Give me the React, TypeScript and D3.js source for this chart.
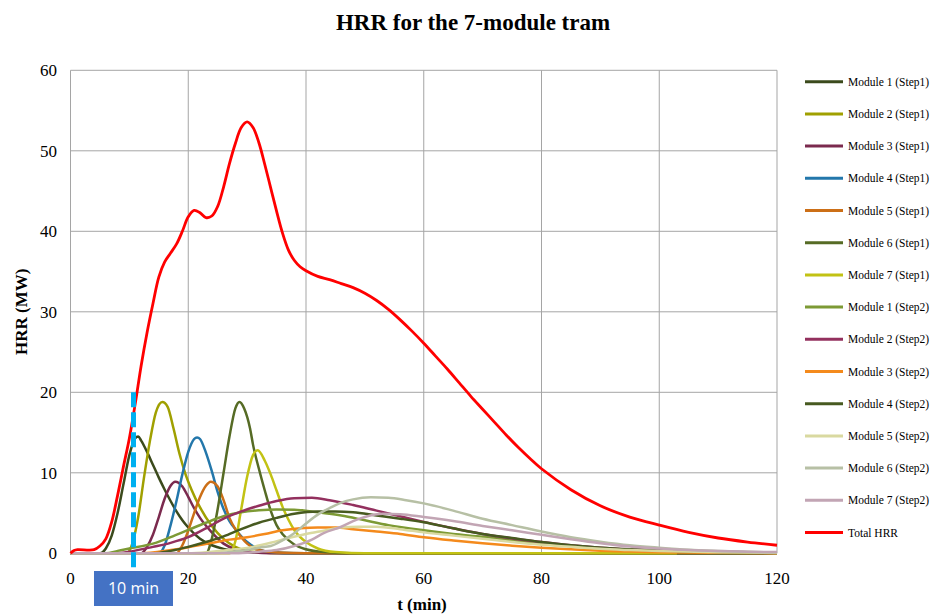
import * as d3 from "d3";

type Pt = [number, number];

// t (min), HRR (MW)
const m1s1: Pt[] = [[0,0],[5,0],[6,0.6],[7,2.2],[8,5],[9,8.6],[10,12.2],[11,14.3],[11.5,14.5],[12,14.0],[13,12.6],[14,11.0],[15,9.4],[16,7.9],[17,6.5],[18,5.2],[19,4.1],[20,3.2],[22,1.8],[24,1.0],[26,0.55],[28,0.3],[32,0.1],[40,0],[120,0]];
const m2s1: Pt[] = [[0,0],[9.5,0],[10.5,1.2],[11.5,4.5],[12.5,9.5],[13.5,14],[14.5,17.5],[15.6,18.8],[16.5,18.2],[17.5,15.5],[18.5,12.4],[19.5,9.9],[20.5,8.0],[22,5.7],[24,3.4],[26,1.8],[28,0.8],[30,0.3],[34,0.05],[40,0],[120,0]];
const m3s1: Pt[] = [[0,0],[12,0],[13,0.8],[14,2.3],[15,4.5],[16,6.8],[17,8.4],[17.8,8.9],[19,8.3],[20,7],[21,5.6],[22,4.4],[24,2.6],[26,1.2],[28,0.5],[30,0.2],[34,0],[120,0]];
const m4s1: Pt[] = [[0,0],[15,0],[16,1],[17,3.5],[18,6.5],[19,9.8],[20,12.6],[21,14.2],[21.5,14.4],[22,14.2],[23,12.5],[24,10.2],[25,7.6],[26,5.5],[27,4],[28,3],[30,1.4],[32,0.5],[34,0.15],[38,0],[120,0]];
const m5s1: Pt[] = [[0,0],[18,0],[19,1],[20,2.8],[21,5],[22,7],[23,8.4],[23.8,8.9],[25,8.3],[26,6.6],[27,4.4],[28,3.0],[29,2],[30,1.2],[32,0.4],[35,0.1],[40,0],[120,0]];
const m6s1: Pt[] = [[0,0],[23,0],[24,1.8],[25,5.5],[26,10],[27,14.5],[28,18],[28.7,18.8],[29.5,18],[30.5,15.5],[31,13.5],[32,10.5],[33,7.8],[34,5.3],[35,3.5],[36,2.4],[38,1.1],[40,0.5],[43,0.15],[48,0],[120,0]];
const m7s1: Pt[] = [[0,0],[27,0],[28,1.5],[29,5.5],[30,9.5],[31,12.2],[31.8,12.8],[33,11.5],[34,9.8],[35,7.8],[36,5.8],[37,4.2],[38,2.9],[40,1.4],[42,0.6],[45,0.15],[50,0],[103,0]];
const m1s2: Pt[] = [[0,0],[6,0],[8,0.3],[10,0.6],[14,1.2],[17,2.0],[20,2.9],[23,3.8],[26,4.6],[29,5.1],[32,5.35],[35,5.45],[38,5.4],[42,5.1],[46,4.7],[50,4.1],[54,3.5],[60,2.85],[65,2.4],[70,2.05],[75,1.6],[80,1.2],[85,0.9],[90,0.65],[95,0.45],[100,0.3],[110,0.15],[120,0.07]];
const m2s2: Pt[] = [[0,0],[8,0],[10,0.2],[14,0.8],[17,1.3],[20,2.0],[23,3.1],[26,4.3],[29,5.2],[32,5.9],[35,6.5],[38,6.85],[41,6.9],[44,6.6],[48,6.0],[52,5.3],[56,4.6],[60,3.9],[65,3.1],[70,2.4],[75,1.85],[80,1.4],[85,1.0],[90,0.7],[95,0.5],[100,0.35],[110,0.15],[120,0.06]];
const m3s2: Pt[] = [[0,0],[12,0],[15,0.2],[18,0.5],[21,0.9],[24,1.3],[27,1.7],[30,2.0],[33,2.4],[36,2.85],[39,3.1],[42,3.2],[45,3.2],[48,3.0],[52,2.7],[56,2.4],[60,2.0],[65,1.6],[70,1.25],[75,0.95],[80,0.7],[85,0.5],[90,0.33],[95,0.22],[100,0.14],[110,0.06],[120,0.02]];
const m4s2: Pt[] = [[0,0],[14,0],[17,0.3],[20,0.8],[23,1.4],[26,2.1],[29,3.0],[32,3.8],[35,4.4],[38,4.9],[42,5.2],[45,5.2],[48,5.1],[52,4.7],[56,4.3],[60,3.85],[65,3.1],[70,2.4],[75,1.9],[80,1.4],[85,1.0],[90,0.7],[95,0.5],[100,0.35],[110,0.15],[120,0.06]];
const m5s2: Pt[] = [[0,0],[20,0],[24,0.2],[28,0.5],[31,0.8],[34,1.3],[37,1.9],[40,2.4],[43,2.8],[46,3.2],[49,3.3],[52,3.3],[56,3.0],[60,2.6],[65,2.2],[70,1.8],[75,1.4],[80,1.05],[85,0.8],[90,0.55],[95,0.4],[100,0.28],[110,0.12],[120,0.05]];
const m6s2: Pt[] = [[0,0],[24,0],[27,0.15],[30,0.4],[32,0.7],[34,0.9],[36,1.6],[38,2.5],[40,3.7],[42,4.8],[44,5.6],[46,6.3],[48,6.7],[51,6.95],[54,6.9],[57,6.6],[60,6.2],[65,5.3],[70,4.3],[75,3.5],[80,2.7],[85,2.0],[90,1.45],[95,1.0],[100,0.7],[105,0.45],[110,0.3],[115,0.18],[120,0.1]];
const m7s2: Pt[] = [[0,0],[28,0],[32,0.2],[35,0.4],[38,0.9],[41,1.7],[43,2.5],[46,3.3],[48,4.0],[50,4.5],[53,4.9],[56,4.85],[60,4.5],[65,4.0],[70,3.4],[75,2.85],[80,2.3],[85,1.75],[90,1.25],[95,0.85],[100,0.6],[105,0.4],[110,0.28],[115,0.2],[120,0.15]];
const total: Pt[] = [[0,0],[0.6,0.35],[1.2,0.45],[4,0.45],[5,0.9],[6,1.8],[7,3.9],[8,7.2],[9,10.8],[10,14.3],[11,18.6],[12,23.3],[13,27.4],[14,31.0],[15,34.3],[16,36.2],[17,37.3],[18,38.4],[19,40.0],[20,41.8],[21,42.6],[22,42.3],[23,41.7],[24,41.9],[25,43.1],[26,45.5],[27,48.4],[28,50.9],[29,52.9],[30,53.6],[31,52.9],[32,51.0],[33,48.3],[34,45.4],[35,42.5],[36,39.8],[37,37.7],[38,36.4],[39,35.6],[40,35.1],[42,34.4],[44,34.0],[46,33.5],[48,33.0],[50,32.3],[52,31.4],[54,30.3],[56,29.0],[58,27.6],[60,26.1],[62,24.5],[64,22.9],[66,21.2],[68,19.5],[70,17.9],[72,16.3],[74,14.7],[76,13.2],[78,11.8],[80,10.5],[85,7.9],[90,5.9],[95,4.5],[100,3.5],[105,2.6],[110,1.9],[115,1.4],[120,1.0]];

const seriesNames = [
  "Module 1 (Step1)", "Module 2 (Step1)", "Module 3 (Step1)", "Module 4 (Step1)",
  "Module 5 (Step1)", "Module 6 (Step1)", "Module 7 (Step1)", "Module 1 (Step2)",
  "Module 2 (Step2)", "Module 3 (Step2)", "Module 4 (Step2)", "Module 5 (Step2)",
  "Module 6 (Step2)", "Module 7 (Step2)", "Total HRR",
];
const seriesColors = [
  "#3b4a1c", "#a0a000", "#7b2a4e", "#2377ab", "#cc6f17", "#566b25", "#c2c214",
  "#7d9a35", "#93305e", "#f48a1c", "#475a20", "#d9d9a0", "#b7c0a5", "#c2a5b4", "#ff0000",
];
const seriesData = [m1s1, m2s1, m3s1, m4s1, m5s1, m6s1, m7s1, m1s2, m2s2, m3s2, m4s2, m5s2, m6s2, m7s2, total];

const xTicks = [0, 20, 40, 60, 80, 100, 120];
const yTicks = [0, 10, 20, 30, 40, 50, 60];
const markerT = 10.7; // "10 min" marker
const markerTop = 20;

const W = 930;
const H = 615;
const plot = { left: 70.5, right: 777, top: 70.3, bottom: 553.3 };
const serif = "'Liberation Serif', 'Times New Roman', serif";

export default function App() {
  const x = d3.scaleLinear().domain([0, 120]).range([plot.left, plot.right]);
  const y = d3.scaleLinear().domain([0, 60]).range([plot.bottom, plot.top]);
  const moduleLine = d3
    .line<Pt>()
    .x((d) => x(d[0]))
    .y((d) => y(d[1]))
    .curve(d3.curveMonotoneX);
  // total is smooth everywhere, catmull-rom keeps it round
  const totalLine = d3
    .line<Pt>()
    .x((d) => x(d[0]))
    .y((d) => y(d[1]))
    .curve(d3.curveCatmullRom.alpha(0.5));

  const mx = x(markerT);

  return (
    <svg
      width={W}
      height={H}
      style={{ position: "absolute", left: 0, top: 0, background: "#fff" }}
      fontFamily={serif}
    >
      <text x={473} y={30} textAnchor="middle" fontSize={23} fontWeight="bold">
        HRR for the 7-module tram
      </text>

      {/* grid */}
      {yTicks.map((t) => (
        <line key={"gy" + t} x1={plot.left} x2={plot.right} y1={y(t)} y2={y(t)} stroke="#a5a5a5" strokeWidth={1} />
      ))}
      {xTicks.map((t) => (
        <line key={"gx" + t} x1={x(t)} x2={x(t)} y1={plot.top} y2={plot.bottom} stroke="#a5a5a5" strokeWidth={1} />
      ))}

      {/* tick labels */}
      {yTicks.map((t) => (
        <text key={"ty" + t} x={57} y={y(t) + 6} textAnchor="end" fontSize={17}>
          {t}
        </text>
      ))}
      {xTicks.map((t) => (
        <text key={"tx" + t} x={x(t)} y={584} textAnchor="middle" fontSize={17}>
          {t}
        </text>
      ))}

      <text x={422} y={610} textAnchor="middle" fontSize={17} fontWeight="bold">
        t (min)
      </text>
      <text
        transform={`translate(27,${(plot.top + plot.bottom) / 2}) rotate(-90)`}
        textAnchor="middle"
        fontSize={17}
        fontWeight="bold"
      >
        HRR (MW)
      </text>

      {/* curves */}
      <g fill="none" strokeLinejoin="round">
        {seriesData.map((d, i) => (
          <path
            key={i}
            d={(i === 14 ? totalLine(d) : moduleLine(d)) ?? ""}
            stroke={seriesColors[i]}
            strokeWidth={i === 14 ? 2.8 : 2.5}
          />
        ))}
      </g>

      {/* 10 min marker */}
      <line x1={mx} x2={mx} y1={y(markerTop)} y2={571} stroke="#00b0f0" strokeWidth={5} strokeDasharray="15,5" />
      <rect x={mx - 39.5} y={571} width={79} height={35} fill="#4472c4" />
      <text x={mx} y={594} textAnchor="middle" fontSize={16} fill="#fff" fontFamily="'Open Sans', 'Liberation Sans', sans-serif">
        10 min
      </text>

      {/* legend */}
      {seriesNames.map((n, i) => {
        const ly = 81.7 + i * 32.2;
        return (
          <g key={n}>
            <line x1={805} x2={843} y1={ly} y2={ly} stroke={seriesColors[i]} strokeWidth={3} />
            <text x={848} y={ly + 4} fontSize={11.5}>
              {n}
            </text>
          </g>
        );
      })}
    </svg>
  );
}
